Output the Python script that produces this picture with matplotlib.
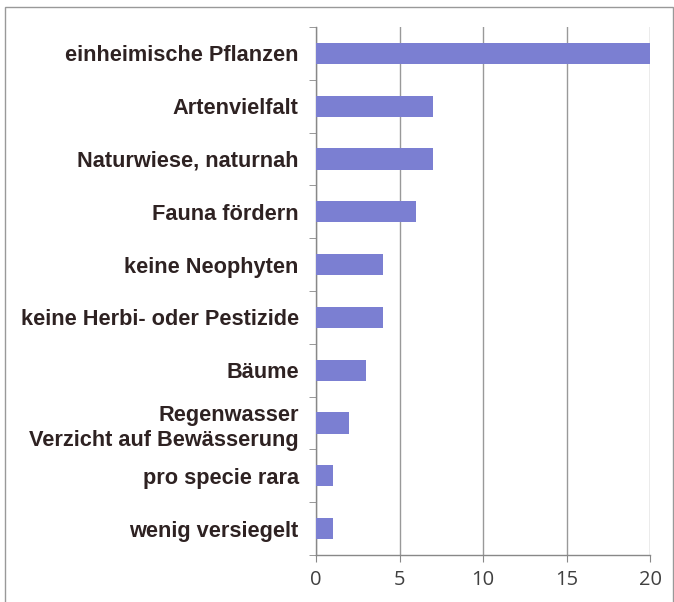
import matplotlib
matplotlib.use("Agg")
import matplotlib.pyplot as plt
from matplotlib.patches import Rectangle

categories = ["einheimische Pflanzen", "Artenvielfalt", "Naturwiese, naturnah",
              "Fauna fördern", "keine Neophyten", "keine Herbi- oder Pestizide",
              "Bäume", "Regenwasser\nVerzicht auf Bewässerung", "pro specie rara",
              "wenig versiegelt"]
values = [20, 7, 7, 6, 4, 4, 3, 2, 1, 1]
xticks = [0, 5, 10, 15, 20]

W, H = 674, 602
fig = plt.figure(figsize=(W/100, H/100), dpi=100)
ax = fig.add_axes([316/W, 1-555/H, (650-316)/W, (555-27)/H])

n = len(categories)
ypos = list(range(n))
ax.barh(ypos, values, height=0.4, color="#7b7fd2", zorder=3)
ax.set_ylim(n-0.5, -0.5)
ax.set_xlim(0, 20)
ax.set_xticks(xticks)
ax.set_xticklabels([str(t) for t in xticks], fontsize=14.5, family="Open Sans", color="#404040")
ax.set_yticks(ypos)
ax.set_yticklabels(categories, fontsize=15.7, fontweight="bold", family="Liberation Sans",
                   color="#2e2222", linespacing=1.3)
ax.set_yticks([i-0.5 for i in range(n+1)], minor=True)
ax.tick_params(axis="y", which="major", length=0, pad=12.5)
ax.tick_params(axis="y", which="minor", length=5, color="#888888", direction="out")
ax.tick_params(axis="x", length=5, color="#888888", direction="out", pad=6)
ax.grid(axis="x", color="#999999", lw=1, zorder=0)
for s in ["top", "right"]:
    ax.spines[s].set_visible(False)
for s in ["left", "bottom"]:
    ax.spines[s].set_color("#888888")
    ax.spines[s].set_linewidth(1)

fig.patches.append(Rectangle((5/W, -0.1), (673-5)/W, 1-7/H+0.1, transform=fig.transFigure,
                             fill=False, edgecolor="#999999", lw=1))
fig.savefig("out.png", dpi=100)
